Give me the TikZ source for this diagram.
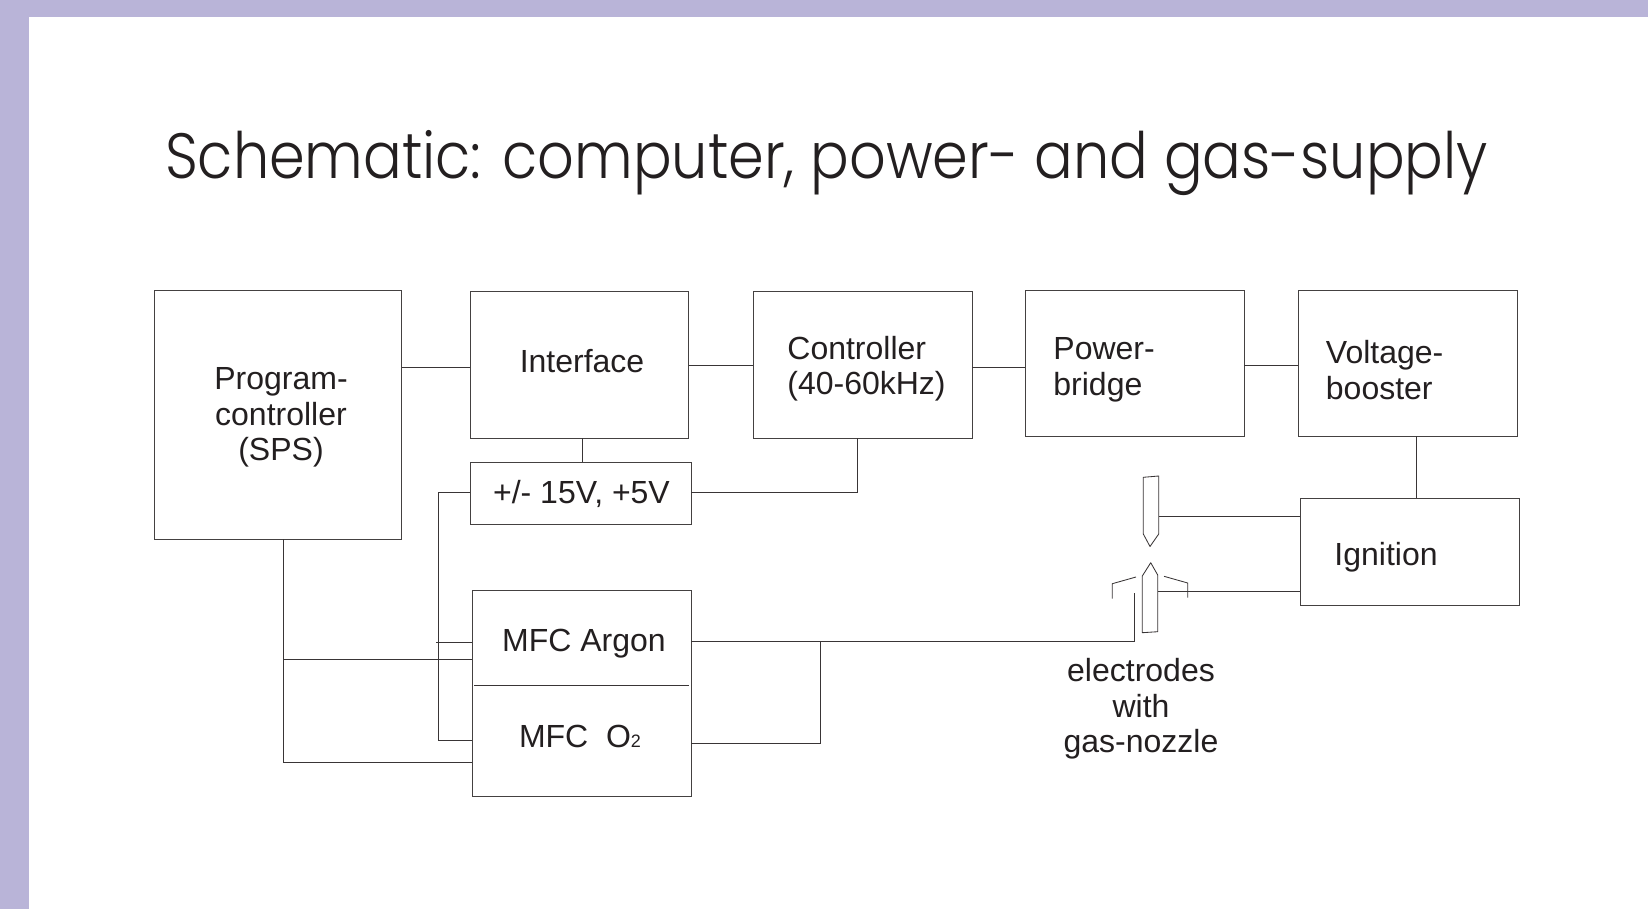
\documentclass[tikz,border=0pt]{standalone}
\usepackage{fontspec}
\setmainfont{Liberation Sans}
\newfontfamily\titlefont[FakeStretch=0.896]{Poppins Light}
\definecolor{band}{HTML}{B9B4D8}
\definecolor{ink}{HTML}{231F20}
\tikzset{
 blk/.style={draw=ink!85,line width=0.42pt,inner sep=0pt,outer sep=0pt,anchor=north west},
 wire/.style={draw=ink!90,line width=0.42pt},
 lbl/.style={font=\fontsize{16}{17.7}\selectfont,text=ink,inner sep=0pt,align=center},
 lbll/.style={lbl,align=left,anchor=west}
}
\newcommand{\blockbox}[5]{\node[blk,minimum width={(#4-#2)*0.5pt},minimum height={(#5-#3)*0.5pt}] (#1) at (#2,#3) {};}
\begin{document}
\begin{tikzpicture}[x=0.5pt,y=-0.5pt]
\useasboundingbox (0,0) rectangle (1648,909);
\fill[white] (0,0) rectangle (1648,909);
\fill[band] (0,0) rectangle (1648,17);
\fill[band] (0,0) rectangle (29,909);
\node[font=\fontsize{32}{36}\selectfont\titlefont,text=ink,inner sep=0pt] (title) at (826.5,163) {Schematic: computer, power- and gas-supply};
\blockbox{prog}{154.5}{290}{401.5}{539}
\blockbox{iface}{470}{291}{688.5}{438}
\blockbox{ctrl}{753}{291}{972}{438}
\blockbox{bridge}{1025}{290}{1244}{436}
\blockbox{boost}{1298}{290}{1517}{436}
\blockbox{ign}{1300}{498}{1519}{605}
\blockbox{psu}{470}{462}{691}{524}
\blockbox{mfc}{472}{590}{691}{796}
\node[lbl] (tprog) at (281,417.5) {Program-\\controller\\(SPS)};
\node[lbl] (tiface) at (582,361.5) {Interface};
\node[lbll] (tctrl) at (787,369) {Controller\\(40-60kHz)};
\node[lbll] (tbridge) at (1053,370) {Power-\\bridge};
\node[lbll] (tboost) at (1325.5,370) {Voltage-\\booster};
\node[lbll] (tign) at (1334,557) {Ignition};
\node[lbl] (tpsu) at (581.5,494) {+/- 15V, +5V};
\node[lbl] (targon) at (584,644) {MFC Argon};
\node[lbl] (to2) at (580,736) {MFC\ \ O{\fontsize{9}{10}\selectfont 2}};
\node[lbl] (telec) at (1141,709) {electrodes\\with\\gas-nozzle};
% electrodes
\node[draw=none,inner sep=0pt,minimum size=0pt] (etop) at (1158.7,516.5) {};
\node[draw=none,inner sep=0pt,minimum size=0pt] (ebot) at (1157.7,591.3) {};
\coordinate (noz) at (1134,593);
\draw[wire,line join=round] (1143.3,477.3) -- (1158.7,476) -- (1158.7,534) -- (1150,546.5) -- (1143.3,534) -- cycle;
\draw[wire,line join=round] (1150.7,562.7) -- (1157.7,575) -- (1157.7,631.7) -- (1142.3,632.7) -- (1142.3,576) -- cycle;
\draw[wire] (1112.3,598.7) -- (1112.3,583.7) -- (1136,577);
\draw[wire] (1164,576.3) -- (1187.7,583) -- (1187.7,597.7);
% connectors
\draw[wire] (prog.east |- 0,367) -- (iface.west |- 0,367);
\draw[wire] (iface.east |- 0,365) -- (ctrl.west |- 0,365);
\draw[wire] (ctrl.east |- 0,367) -- (bridge.west |- 0,367);
\draw[wire] (bridge.east |- 0,365) -- (boost.west |- 0,365);
\draw[wire] (boost.south -| 1416,0) -- (ign.north -| 1416,0);
\draw[wire] (iface.south -| 582,0) -- (psu.north -| 582,0);
\draw[wire] (psu.east |- 0,492) -- (857,492) -- (ctrl.south -| 857,0);
\draw[wire] (psu.west |- 0,492) -- (438,492) -- (438,740) -- (mfc.west |- 0,740);
\draw[wire] (436,642) -- (mfc.west |- 0,642);
\draw[wire] (prog.south -| 283,0) -- (283,762) -- (mfc.west |- 0,762);
\draw[wire] (283,659) -- (mfc.west |- 0,659);
\draw[wire] (474,685) -- (689,685);
\draw[wire] (mfc.east |- 0,641) -- (1134,641) -- (noz);
\draw[wire] (mfc.east |- 0,743) -- (820,743) -- (820,641);
\draw[wire] (etop) -- (ign.west |- etop);
\draw[wire] (ebot) -- (ign.west |- ebot);
\end{tikzpicture}
\end{document}
